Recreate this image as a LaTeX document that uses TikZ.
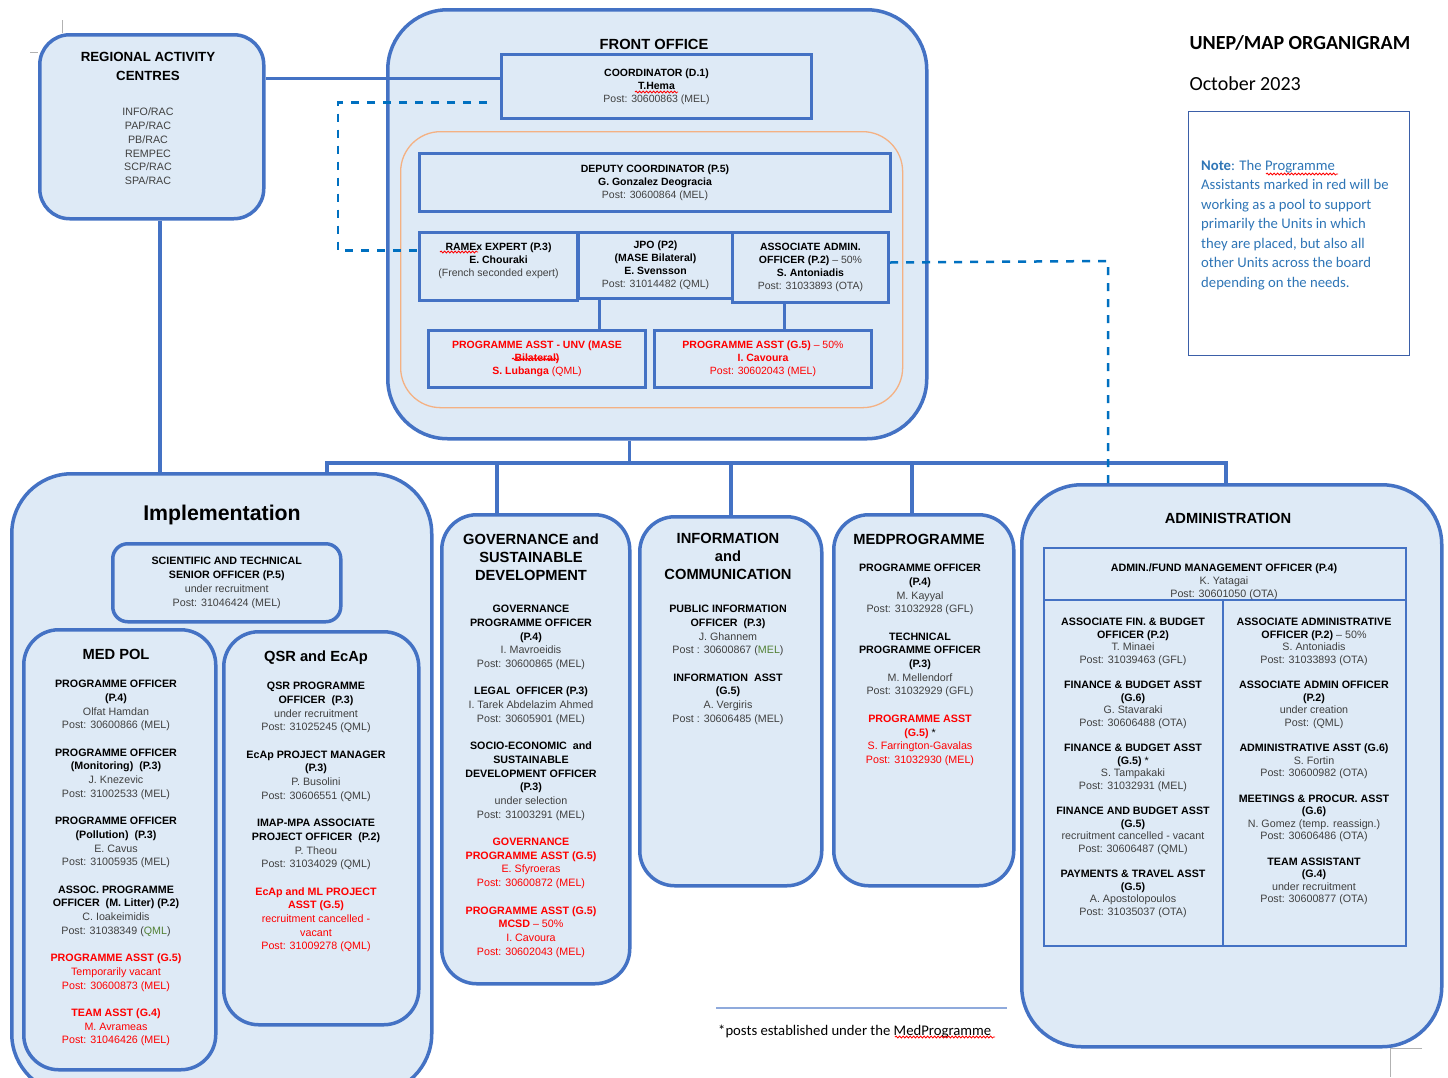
\documentclass[tikz,border=0pt]{standalone}
\usepackage{fontspec}
\setmainfont{Liberation Sans}
\newfontfamily\calibri{Carlito}
\usetikzlibrary{decorations.pathmorphing}
\definecolor{mapblue}{HTML}{4472C4}
\definecolor{mapfill}{HTML}{DEEAF6}
\definecolor{dashblue}{HTML}{0070C0}
\definecolor{orangeline}{HTML}{F4B183}
\definecolor{mapred}{HTML}{FF0000}
\definecolor{txtgrey}{HTML}{404040}
\definecolor{qmlgreen}{HTML}{538135}
\definecolor{noteblue}{HTML}{2E75B6}
\definecolor{notebord}{HTML}{3B5FA8}
\definecolor{footrule}{HTML}{8FAADC}
\newcommand{\job}[1]{\textbf{#1}}
\newcommand{\who}[1]{\textcolor{txtgrey}{#1}}
\newcommand{\rjob}[1]{\textcolor{mapred}{\textbf{#1}}}
\newcommand{\rwho}[1]{\textcolor{mapred}{#1}}
\newcommand{\grn}[1]{\textcolor{qmlgreen}{#1}}
\newcommand{\gap}{\\[\baselineskip]}
\tikzset{
  unit/.style={draw=mapblue, line width=3.5pt, fill=mapfill, rounded corners=35pt, anchor=north west, inner sep=0pt},
  post/.style={draw=mapblue, line width=3pt, fill=mapfill, align=center, anchor=north west, font=\fontsize{10.5}{13}\selectfont},
  cell/.style={draw=mapblue, line width=1.5pt, anchor=north west},
  link/.style={draw=mapblue, line width=3.5pt},
  dashlink/.style={draw=dashblue, line width=2.5pt, dash pattern=on 8pt off 8pt},
  txt/.style={align=center, inner sep=0pt, anchor=north, font=\fontsize{10.7}{13.7}\selectfont},
  admtxt/.style={txt, font=\fontsize{10.7}{12.6}\selectfont},
  head/.style={align=center, inner sep=0pt, font=\fontsize{14.7}{18}\selectfont\bfseries},
  cropmark/.style={draw=gray!60, line width=0.8pt},
  squig/.style={draw=mapred, line width=0.8pt, decorate, decoration={snake, amplitude=1pt, segment length=3.5pt}}
}
\begin{document}
\begin{tikzpicture}[x=1pt, y=-1pt]
\path[use as bounding box, fill=white] (0,0) rectangle (1448,1077);
% page marks
\draw[cropmark] (62,20) -- (62,33);
\draw[cropmark] (30,52) -- (38,52);
\draw[cropmark] (1422,1048) -- (1390,1048) -- (1390,1077);

% title and note
\node[anchor=base west, font=\calibri\fontsize{20}{24}\selectfont\bfseries] (title) at (1186,49) {UNEP/MAP ORGANIGRAM};
\node[anchor=base west, font=\calibri\fontsize{20}{24}\selectfont] (date) at (1186,90) {October 2023};
\node[draw=notebord, line width=1.3pt, minimum width=221pt, minimum height=244pt, anchor=north west] (notebox) at (1188,111) {};
\node[anchor=north west, inner sep=0pt, align=left, text=noteblue, font=\calibri\fontsize{14.7}{19.5}\selectfont] (notetext) at (1201,160)
  {\textbf{Note}: The Programme\\Assistants marked in red will be\\working as a pool to support\\primarily the Units in which\\they are placed, but also all\\other Units across the board\\depending on the needs.};

% regional activity centres
\node[unit, rounded corners=30pt, minimum width=224pt, minimum height=184pt] (rac) at (38,33) {};
\node[head, anchor=north, font=\fontsize{13.3}{19}\selectfont\bfseries] (ractitle) at (148,52) {REGIONAL ACTIVITY\\CENTRES};
\node[txt, text=txtgrey] (raclist) at (148,108) {INFO/RAC\\PAP/RAC\\PB/RAC\\REMPEC\\SCP/RAC\\SPA/RAC};

% front office
\node[unit, rounded corners=60pt, minimum width=539pt, minimum height=429pt] (fo) at (386,8) {};
\node[head, anchor=base] (fotitle) at (654,49) {FRONT OFFICE};
\node[draw=orangeline, line width=1.3pt, rounded corners=40pt, minimum width=502pt, minimum height=276pt, anchor=north west] (depzone) at (400,131) {};
\node[post, minimum width=310pt, minimum height=64pt] (coord) at (500,53)
  {\job{COORDINATOR (D.1)}\\\job{T.Hema}\\\who{Post: 30600863 (MEL)}};
\node[post, minimum width=471pt, minimum height=58pt] (dep) at (418,152)
  {\job{DEPUTY COORDINATOR (P.5)}\\\job{G. Gonzalez Deogracia}\\\who{Post: 30600864 (MEL)}};
\node[post, minimum width=158pt, minimum height=68pt] (pex) at (418,231)
  {\job{RAMEx EXPERT (P.3)}\\\job{E. Chouraki}\\\who{(French seconded expert)}\\\mbox{}};
\node[post, minimum width=154pt, minimum height=66pt] (jpo) at (577,231)
  {\job{JPO (P2)}\\\job{(MASE Bilateral)}\\\job{E. Svensson}\\\who{Post: 31014482 (QML)}};
\node[post, minimum width=156pt, minimum height=70pt] (aao) at (731,231)
  {\job{ASSOCIATE ADMIN.}\\\job{OFFICER (P.2)} \who{-- 50\%}\\\job{S. Antoniadis}\\\who{Post: 31033893 (OTA)}};
\node[post, minimum width=217pt, minimum height=57pt] (unv) at (427,329)
  {\rjob{PROGRAMME ASST - UNV (MASE}\\\rjob{Bilateral)}\\\rjob{S. Lubanga} \rwho{(QML)}};
\node[post, minimum width=217pt, minimum height=57pt] (pahalf) at (653,329)
  {\rjob{PROGRAMME ASST (G.5)} \rwho{-- 50\%}\\\rjob{I. Cavoura}\\\rwho{Post: 30602043 (MEL)}};

% implementation
\node[unit, rounded corners=60pt, minimum width=420pt, minimum height=620pt] (impl) at (10,472) {};
\node[anchor=base, inner sep=0pt, font=\fontsize{21.3}{26}\selectfont\bfseries] (impltitle) at (222,520) {Implementation};
\node[post, rounded corners=15pt, line width=3.5pt, minimum width=228pt, minimum height=78pt, font=\fontsize{10.7}{14}\selectfont] (sci) at (111,542)
  {\job{SCIENTIFIC AND TECHNICAL}\\\job{SENIOR OFFICER (P.5)}\\\who{under recruitment}\\\who{Post: 31046424 (MEL)}};
\node[unit, minimum width=192pt, minimum height=440pt] (medpol) at (22,628) {};
\node[head, anchor=base] (medpoltitle) at (116,659) {MED POL};
\node[txt] (medpoltx) at (116,680)
  {\job{PROGRAMME OFFICER}\\\job{(P.4)}\\\who{Olfat Hamdan}\\\who{Post: 30600866 (MEL)}\gap
   \job{PROGRAMME OFFICER}\\\job{(Monitoring) \ (P.3)}\\\who{J. Knezevic}\\\who{Post: 31002533 (MEL)}\gap
   \job{PROGRAMME OFFICER}\\\job{(Pollution) \ (P.3)}\\\who{E. Cavus}\\\who{Post: 31005935 (MEL)}\gap
   \job{ASSOC. PROGRAMME}\\\job{OFFICER \ (M. Litter) (P.2)}\\\who{C. Ioakeimidis}\\\who{Post: 31038349 (\grn{QML})}\gap
   \rjob{PROGRAMME ASST (G.5)}\\\rwho{Temporarily vacant}\\\rwho{Post: 30600873 (MEL)}\gap
   \rjob{TEAM ASST (G.4)}\\\rwho{M. Avrameas}\\\rwho{Post: 31046426 (MEL)}};
\node[unit, minimum width=195pt, minimum height=393pt] (qsr) at (222,630) {};
\node[head, anchor=base] (qsrtitle) at (316,661) {QSR and EcAp};
\node[txt] (qsrtx) at (316,682)
  {\job{QSR PROGRAMME}\\\job{OFFICER \ (P.3)}\\\who{under recruitment}\\\who{Post: 31025245 (QML)}\gap
   \job{EcAp PROJECT MANAGER}\\\job{(P.3)}\\\who{P. Busolini}\\\who{Post: 30606551 (QML)}\gap
   \job{IMAP-MPA ASSOCIATE}\\\job{PROJECT OFFICER \ (P.2)}\\\who{P. Theou}\\\who{Post: 31034029 (QML)}\gap
   \rjob{EcAp and ML PROJECT}\\\rjob{ASST (G.5)}\\\rwho{recruitment cancelled -}\\\rwho{vacant}\\\rwho{Post: 31009278 (QML)}};

% governance
\node[unit, minimum width=188pt, minimum height=469pt] (gov) at (440,513) {};
\node[head, anchor=north] (govtitle) at (531,533.5) {GOVERNANCE and\\SUSTAINABLE\\DEVELOPMENT};
\node[txt] (govtx) at (531,605)
  {\job{GOVERNANCE}\\\job{PROGRAMME OFFICER}\\\job{(P.4)}\\\who{I. Mavroeidis}\\\who{Post: 30600865 (MEL)}\gap
   \job{LEGAL \ OFFICER (P.3)}\\\who{I. Tarek Abdelazim Ahmed}\\\who{Post: 30605901 (MEL)}\gap
   \job{SOCIO-ECONOMIC \ and}\\\job{SUSTAINABLE}\\\job{DEVELOPMENT OFFICER}\\\job{(P.3)}\\\who{under selection}\\\who{Post: 31003291 (MEL)}\gap
   \rjob{GOVERNANCE}\\\rjob{PROGRAMME ASST (G.5)}\\\rwho{E. Sfyroeras}\\\rwho{Post: 30600872 (MEL)}\gap
   \rjob{PROGRAMME ASST (G.5)}\\\rjob{MCSD} \rwho{-- 50\%}\\\rwho{I. Cavoura}\\\rwho{Post: 30602043 (MEL)}};

% information
\node[unit, minimum width=182pt, minimum height=369pt] (info) at (638,515) {};
\node[head, anchor=north] (infotitle) at (728,533.5) {INFORMATION\\and\\COMMUNICATION};
\node[txt] (infotx) at (728,605)
  {\job{PUBLIC INFORMATION}\\\job{OFFICER \ (P.3)}\\\who{J. Ghannem}\\\who{Post : 30600867 (\grn{MEL})}\gap
   \job{INFORMATION \ ASST}\\\job{(G.5)}\\\who{A. Vergiris}\\\who{Post : 30606485 (MEL)}};

% medprogramme
\node[unit, minimum width=180pt, minimum height=371pt] (medp) at (832,513) {};
\node[head, anchor=base] (medptitle) at (919,544) {MEDPROGRAMME};
\node[txt] (medptx) at (920,564)
  {\job{PROGRAMME OFFICER}\\\job{(P.4)}\\\who{M. Kayyal}\\\who{Post: 31032928 (GFL)}\gap
   \job{TECHNICAL}\\\job{PROGRAMME OFFICER}\\\job{(P.3)}\\\who{M. Mellendorf}\\\who{Post: 31032929 (GFL)}\gap
   \rjob{PROGRAMME ASST}\\\rjob{(G.5)} *\\\rwho{S. Farrington-Gavalas}\\\rwho{Post: 31032930 (MEL)}};

% administration
\node[unit, rounded corners=60pt, minimum width=420pt, minimum height=562pt] (admin) at (1020,483) {};
\node[head, anchor=base] (admintitle) at (1228,523) {ADMINISTRATION};
\node[cell, minimum width=362pt, minimum height=52pt] (admtop) at (1043,547) {};
\node[cell, minimum width=179pt, minimum height=346pt] (admleft) at (1043,599) {};
\node[cell, minimum width=183pt, minimum height=346pt] (admright) at (1222,599) {};
\node[admtxt] (admtoptx) at (1224,564)
  {\job{ADMIN./FUND MANAGEMENT OFFICER (P.4)}\\\who{K. Yatagai}\\\who{Post: 30601050 (OTA)}};
\node[admtxt] (admlefttx) at (1133,618)
  {\job{ASSOCIATE FIN. \& BUDGET}\\\job{OFFICER (P.2)}\\\who{T. Minaei}\\\who{Post: 31039463 (GFL)}\gap
   \job{FINANCE \& BUDGET ASST}\\\job{(G.6)}\\\who{G. Stavaraki}\\\who{Post: 30606488 (OTA)}\gap
   \job{FINANCE \& BUDGET ASST}\\\job{(G.5)} *\\\who{S. Tampakaki}\\\who{Post: 31032931 (MEL)}\gap
   \job{FINANCE AND BUDGET ASST}\\\job{(G.5)}\\\who{recruitment cancelled - vacant}\\\who{Post: 30606487 (QML)}\gap
   \job{PAYMENTS \& TRAVEL ASST}\\\job{(G.5)}\\\who{A. Apostolopoulos}\\\who{Post: 31035037 (OTA)}};
\node[admtxt] (admrighttx) at (1314,618)
  {\job{ASSOCIATE ADMINISTRATIVE}\\\job{OFFICER (P.2)} \who{-- 50\%}\\\who{S. Antoniadis}\\\who{Post: 31033893 (OTA)}\gap
   \job{ASSOCIATE ADMIN OFFICER}\\\job{(P.2)}\\\who{under creation}\\\who{Post: (QML)}\gap
   \job{ADMINISTRATIVE ASST (G.6)}\\\who{S. Fortin}\\\who{Post: 30600982 (OTA)}\gap
   \job{MEETINGS \& PROCUR. ASST}\\\job{(G.6)}\\\who{N. Gomez (temp. reassign.)}\\\who{Post: 30606486 (OTA)}\gap
   \job{TEAM ASSISTANT}\\\job{(G.4)}\\\who{under recruitment}\\\who{Post: 30600877 (OTA)}};

% connectors
\coordinate (busL) at (327,463);
\coordinate (busR) at (1226,463);
\coordinate (dk) at (1108,261);
\draw[link] ([yshift=8pt]coord.west) -- ([yshift=8pt]coord.west -| rac.east);
\draw[link] ([xshift=8pt]rac.south) -- ([xshift=8pt]rac.south |- impl.north);
\draw[link, line width=3pt] ([xshift=-56pt]jpo.south) -- ([xshift=-56pt]jpo.south |- unv.north);
\draw[link, line width=3pt] ([xshift=-26pt]aao.south) -- ([xshift=-26pt]aao.south |- pahalf.north);
\draw[link] ([xshift=-28pt]fo.south) -- ([xshift=-28pt]fo.south |- busL);
\draw[link] (busL |- impl.north) -- (busL) -- (busR) -- (busR |- admin.north);
\draw[link] ([xshift=-39pt]gov.north) -- ([xshift=-39pt]gov.north |- busL);
\draw[link] (info.north) -- (info.north |- busL);
\draw[link] ([xshift=-12pt]medp.north) -- ([xshift=-12pt]medp.north |- busL);
\draw[dashlink] ([shift={(-13pt,-16pt)}]coord.west) -- ++(-149,0) |- ([yshift=16pt]pex.west);
\draw[dashlink] ([yshift=5pt]aao.east) -- (dk) -- (dk |- admin.north);

% footnote
\draw[footrule, line width=1.5pt] (716,1008) -- (1007,1008);
\node[anchor=base west, inner sep=0pt, font=\calibri\fontsize{14.7}{18}\selectfont] (footnote) at (718,1035) {*posts established under the MedProgramme};

% spelling marks
\draw[squig] (1266,174) -- (1338,174);
\draw[squig] (635,92) -- (678,92);
\draw[squig] (512,359) -- (559,359);
\draw[squig] (440,252) -- (478,252);
\draw[squig] (895,1037) -- (995,1037);
\end{tikzpicture}
\end{document}
